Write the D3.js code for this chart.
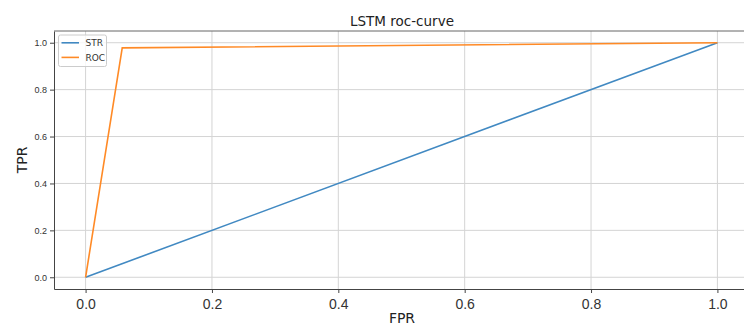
<!DOCTYPE html>
<html>
<head>
<meta charset="utf-8">
<script src="https://cdn.jsdelivr.net/npm/d3@7"></script>
<style>
  body { margin: 0; background: #fff; }
  svg { font-family: "DejaVu Sans", sans-serif; }
</style>
</head>
<body>
<div id="chart"></div>
<script>
// data
const strFpr = [0, 1];
const strTpr = [0, 1];
const rocFpr = [0, 0.058, 1];
const rocTpr = [0, 0.978, 1];
const xTicks = [0, 0.2, 0.4, 0.6, 0.8, 1.0];
const yTicks = [0, 0.2, 0.4, 0.6, 0.8, 1.0];
const seriesNames = ["STR", "ROC"];
const seriesColors = ["#4189c2", "#ff8a26"];

const width = 744, height = 329;
const margin = { top: 31, right: -5, bottom: 40, left: 54 };
const innerW = width - margin.left - margin.right;
const innerH = height - margin.top - margin.bottom;

const svg = d3.select("#chart").append("svg")
  .attr("width", width)
  .attr("height", height);

const g = svg.append("g")
  .attr("transform", `translate(${margin.left},${margin.top})`);

const x = d3.scaleLinear().domain([-0.05, 1.05]).range([0, innerW]);
const y = d3.scaleLinear().domain([-0.05, 1.05]).range([innerH, 0]);

// grid
g.append("g").selectAll("line").data(xTicks).enter().append("line")
  .attr("x1", d => x(d)).attr("x2", d => x(d))
  .attr("y1", 0).attr("y2", innerH)
  .attr("stroke", "#d4d4d4").attr("stroke-width", 1);
g.append("g").selectAll("line").data(yTicks).enter().append("line")
  .attr("x1", 0).attr("x2", innerW)
  .attr("y1", d => y(d)).attr("y2", d => y(d))
  .attr("stroke", "#d4d4d4").attr("stroke-width", 1);

// axes
const xAxis = g.append("g")
  .attr("transform", `translate(0,${innerH})`)
  .call(d3.axisBottom(x).tickValues(xTicks).tickFormat(d3.format(".1f")).tickSize(4).tickSizeOuter(0));
xAxis.selectAll("text").attr("font-size", 14).attr("fill", "#333").attr("dy", "0.95em");

const yAxis = g.append("g")
  .call(d3.axisLeft(y).tickValues(yTicks).tickFormat(d3.format(".1f")).tickSize(4).tickSizeOuter(0));
yAxis.selectAll("text").attr("font-size", 9).attr("fill", "#333");

[xAxis, yAxis].forEach(a => {
  a.select(".domain").attr("stroke", "#444");
  a.selectAll(".tick line").attr("stroke", "#444");
});

// top spine
g.append("line")
  .attr("x1", 0).attr("x2", innerW).attr("y1", 0).attr("y2", 0)
  .attr("stroke", "#666");

// lines
const line = d3.line().x(d => x(d[0])).y(d => y(d[1]));
const series = [
  d3.zip(strFpr, strTpr),
  d3.zip(rocFpr, rocTpr)
];
g.selectAll(".series").data(series).enter().append("path")
  .attr("class", "series")
  .attr("d", line)
  .attr("fill", "none")
  .attr("stroke", (d, i) => seriesColors[i])
  .attr("stroke-width", 1.6);

// legend
const legend = g.append("g").attr("transform", "translate(4.5,4)");
legend.append("rect")
  .attr("width", 48).attr("height", 31.5).attr("rx", 2)
  .attr("fill", "#fff").attr("fill-opacity", 0.8)
  .attr("stroke", "#ccc");
seriesNames.forEach((name, i) => {
  const yy = 7.8 + i * 14.6;
  legend.append("line")
    .attr("x1", 3).attr("x2", 20.5).attr("y1", yy).attr("y2", yy)
    .attr("stroke", seriesColors[i]).attr("stroke-width", 1.6);
  legend.append("text")
    .attr("x", 27).attr("y", yy).attr("dy", "0.35em")
    .attr("font-size", 9).attr("fill", "#333")
    .text(name);
});

// title and labels
svg.append("text")
  .attr("x", 402).attr("y", 26)
  .attr("text-anchor", "middle").attr("font-size", 13.5).attr("fill", "#222")
  .text("LSTM roc-curve");
svg.append("text")
  .attr("x", 402).attr("y", 323)
  .attr("text-anchor", "middle").attr("font-size", 14).attr("fill", "#222")
  .text("FPR");
svg.append("text")
  .attr("transform", "translate(27,160) rotate(-90)")
  .attr("text-anchor", "middle").attr("font-size", 14).attr("fill", "#222")
  .text("TPR");
</script>
</body>
</html>
